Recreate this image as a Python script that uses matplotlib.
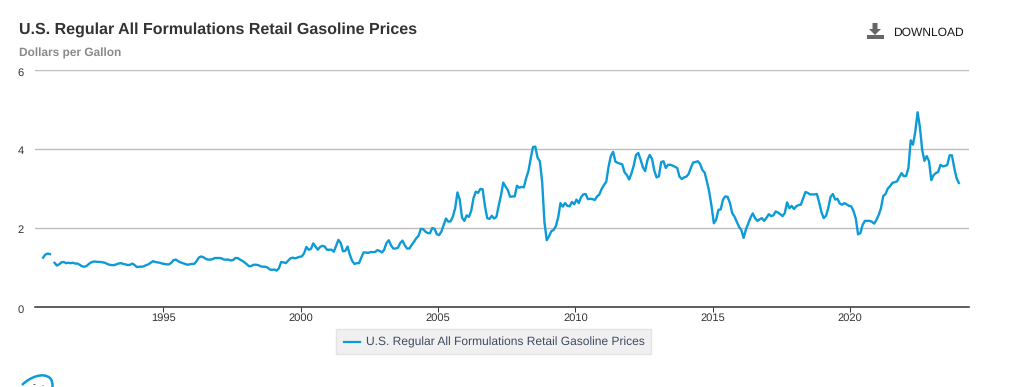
import numpy as np
import matplotlib
matplotlib.use("Agg")
import matplotlib.pyplot as plt
from matplotlib.patches import Polygon, Rectangle, Circle, PathPatch
from matplotlib.path import Path
from matplotlib.transforms import ScaledTranslation

plt.rcParams['font.family'] = ['Liberation Sans', 'DejaVu Sans']
plt.rcParams['text.hinting'] = 'no_hinting'

TITLE = "U.S. Regular All Formulations Retail Gasoline Prices"
UNITS = "Dollars per Gallon"
SERIES = "U.S. Regular All Formulations Retail Gasoline Prices"
YTICKS = [0, 2, 4, 6]
XTICKS = [1995, 2000, 2005, 2010, 2015, 2020]
START_YEAR = 1990
START_MONTH = 8

p1990 = [1.25, 1.33, 1.35, 1.34, np.nan]
p1991 = [1.12, 1.05, 1.08, 1.13, 1.14, 1.11, 1.12, 1.11, 1.12, 1.10, 1.10, 1.07]
p1992 = [1.03, 1.02, 1.04, 1.09, 1.13, 1.15, 1.15, 1.14, 1.14, 1.13, 1.12, 1.09]
p1993 = [1.07, 1.06, 1.06, 1.08, 1.10, 1.11, 1.09, 1.08, 1.06, 1.07, 1.10, 1.06]
p1994 = [1.01, 1.02, 1.02, 1.03, 1.06, 1.08, 1.12, 1.16, 1.14, 1.13, 1.12, 1.10]
p1995 = [1.09, 1.08, 1.08, 1.12, 1.19, 1.20, 1.16, 1.13, 1.11, 1.09, 1.07, 1.08]
p1996 = [1.09, 1.09, 1.16, 1.25, 1.28, 1.26, 1.22, 1.20, 1.20, 1.21, 1.24, 1.24]
p1997 = [1.24, 1.23, 1.20, 1.20, 1.20, 1.18, 1.19, 1.24, 1.24, 1.20, 1.17, 1.13]
p1998 = [1.08, 1.03, 1.04, 1.07, 1.07, 1.06, 1.03, 1.02, 1.02, 1.00, 0.95, 0.94]
p1999 = [0.95, 0.92, 0.98, 1.14, 1.13, 1.11, 1.17, 1.23, 1.25, 1.23, 1.25, 1.27]
p2000 = [1.28, 1.36, 1.52, 1.45, 1.47, 1.61, 1.53, 1.45, 1.52, 1.55, 1.53, 1.45]
p2001 = [1.45, 1.45, 1.40, 1.55, 1.70, 1.62, 1.41, 1.42, 1.53, 1.32, 1.17, 1.09]
p2002 = [1.11, 1.11, 1.25, 1.38, 1.38, 1.37, 1.39, 1.39, 1.39, 1.44, 1.42, 1.38]
p2003 = [1.45, 1.62, 1.69, 1.56, 1.48, 1.48, 1.50, 1.62, 1.68, 1.56, 1.48, 1.48]
p2004 = [1.57, 1.65, 1.74, 1.80, 1.98, 1.97, 1.91, 1.87, 1.87, 2.00, 1.98, 1.84]
p2005 = [1.82, 1.91, 2.08, 2.24, 2.16, 2.17, 2.29, 2.50, 2.90, 2.72, 2.26, 2.18]
p2006 = [2.32, 2.28, 2.43, 2.75, 2.92, 2.89, 2.99, 2.98, 2.56, 2.25, 2.23, 2.31]
p2007 = [2.24, 2.28, 2.56, 2.82, 3.15, 3.05, 2.96, 2.79, 2.80, 2.80, 3.07, 3.02]
p2008 = [3.04, 3.03, 3.26, 3.44, 3.76, 4.05, 4.06, 3.78, 3.69, 3.17, 2.15, 1.69]
p2009 = [1.79, 1.92, 1.95, 2.05, 2.27, 2.63, 2.54, 2.63, 2.56, 2.55, 2.66, 2.60]
p2010 = [2.72, 2.63, 2.78, 2.85, 2.86, 2.73, 2.74, 2.73, 2.71, 2.80, 2.85, 2.99]
p2011 = [3.09, 3.17, 3.55, 3.82, 3.93, 3.68, 3.65, 3.63, 3.61, 3.41, 3.34, 3.23]
p2012 = [3.38, 3.58, 3.85, 3.90, 3.73, 3.54, 3.44, 3.72, 3.85, 3.75, 3.45, 3.28]
p2013 = [3.31, 3.67, 3.69, 3.52, 3.60, 3.60, 3.58, 3.55, 3.52, 3.30, 3.24, 3.28]
p2014 = [3.30, 3.37, 3.53, 3.66, 3.67, 3.69, 3.62, 3.47, 3.40, 3.17, 2.91, 2.55]
p2015 = [2.12, 2.21, 2.46, 2.47, 2.72, 2.80, 2.79, 2.64, 2.38, 2.29, 2.16, 2.03]
p2016 = [1.95, 1.75, 1.96, 2.11, 2.26, 2.37, 2.25, 2.18, 2.22, 2.25, 2.18, 2.26]
p2017 = [2.35, 2.30, 2.32, 2.42, 2.39, 2.35, 2.30, 2.38, 2.65, 2.50, 2.56, 2.48]
p2018 = [2.55, 2.58, 2.59, 2.75, 2.91, 2.89, 2.85, 2.85, 2.85, 2.86, 2.65, 2.40]
p2019 = [2.25, 2.31, 2.51, 2.79, 2.86, 2.72, 2.74, 2.62, 2.59, 2.63, 2.60, 2.56]
p2020 = [2.55, 2.43, 2.24, 1.84, 1.87, 2.08, 2.18, 2.18, 2.18, 2.16, 2.11, 2.20]
p2021 = [2.33, 2.50, 2.81, 2.86, 3.00, 3.06, 3.14, 3.16, 3.18, 3.29, 3.39, 3.31]
p2022 = [3.32, 3.52, 4.22, 4.11, 4.44, 4.93, 4.56, 3.98, 3.70, 3.82, 3.69, 3.21]
p2023 = [3.34, 3.39, 3.42, 3.60, 3.56, 3.57, 3.60, 3.84, 3.84, 3.53, 3.27, 3.14]

prices = np.array(
    p1990 + p1991 + p1992 + p1993 + p1994 + p1995 + p1996 + p1997 + p1998
    + p1999 + p2000 + p2001 + p2002 + p2003 + p2004 + p2005 + p2006 + p2007
    + p2008 + p2009 + p2010 + p2011 + p2012 + p2013 + p2014 + p2015 + p2016
    + p2017 + p2018 + p2019 + p2020 + p2021 + p2022 + p2023, dtype=float)
# each month is placed at its middle
years = START_YEAR + (START_MONTH - 0.5 + np.arange(len(prices))) / 12

W, H = 1030, 387
fig = plt.figure(figsize=(W / 100, H / 100), dpi=100, facecolor='white')
L, R, T, B = 35, 969, 70, 307
ax = fig.add_axes([L / W, 1 - B / H, (R - L) / W, (B - T) / H])
ax.set_xlim(1990.33, 2024.33)
ax.set_ylim(0, 6)
BLUE = '#0d9bd8'
ax.plot(years, prices, color=BLUE, lw=1.7, solid_joinstyle='round', clip_on=False)

for s in ['top', 'left', 'right']:
    ax.spines[s].set_visible(False)
ax.spines['bottom'].set_color('#333333')
ax.spines['bottom'].set_linewidth(1.1)
ax.set_yticks(YTICKS)
ax.set_xticks(XTICKS)
ax.tick_params(axis='y', length=0, pad=8, labelsize=8, labelcolor='#333333')
ax.tick_params(axis='x', length=3.8, width=0.7, color='#333333', pad=0.6, labelsize=8, labelcolor='#333333')
ax.grid(axis='y', color='#bdbdbd', lw=1)
ax.set_axisbelow(True)
shift = ScaledTranslation(0, -0.015, fig.dpi_scale_trans)
for lab in ax.get_yticklabels():
    lab.set_transform(lab.get_transform() + shift)

def px(x, y):
    return x / W, 1 - y / H

fig.text(*px(19, 29.5), TITLE, fontsize=11.5, fontweight='bold', color='#333333', va='center')
fig.text(*px(19, 53.5), UNITS, fontsize=8.6, fontweight='bold', color='#8a8a8a', va='center')
fig.text(*px(893, 32.5), "DOWNLOAD", fontsize=8.65, color='#1a1a1a', va='center')

icon = '#666666'
tr = fig.transFigure
def pts(seq):
    return [px(a, b) for a, b in seq]
fig.add_artist(Polygon(pts([(867, 35), (884, 35), (884, 39), (867, 39)]), closed=True, fc=icon, ec='none', transform=tr))
fig.add_artist(Polygon(pts([(872.5, 23), (877.5, 23), (877.5, 29), (881, 29), (875, 35), (869, 29), (872.5, 29)]),
                       closed=True, fc=icon, ec='none', transform=tr))

fig.add_artist(Rectangle(px(336, 353.5), 314.7 / W, 24.5 / H, fc='#f0f0f0', ec='#e4e4e4', lw=1, transform=tr))
fig.add_artist(plt.Line2D([344 / W, 360 / W], [1 - 342 / H] * 2, color=BLUE, lw=1.6, transform=tr))
fig.text(*px(365.7, 342), SERIES, fontsize=8.62, color='#3f4a63', va='center')

logo = Path(pts([(22, 385), (30, 377), (43, 372), (50, 378), (52, 380), (52.5, 383), (52.5, 387)]),
            [Path.MOVETO, Path.CURVE4, Path.CURVE4, Path.CURVE4, Path.CURVE4, Path.CURVE4, Path.CURVE4])
fig.add_artist(PathPatch(logo, fc='none', ec=BLUE, lw=1.8, transform=tr))
fig.add_artist(Circle(px(34.5, 384.5), 0.0011, fc='#333333', ec='none', transform=tr))
fig.add_artist(Circle(px(43, 385.5), 0.0009, fc='#777777', ec='none', transform=tr))

fig.savefig('out.png', dpi=100, facecolor='white')
